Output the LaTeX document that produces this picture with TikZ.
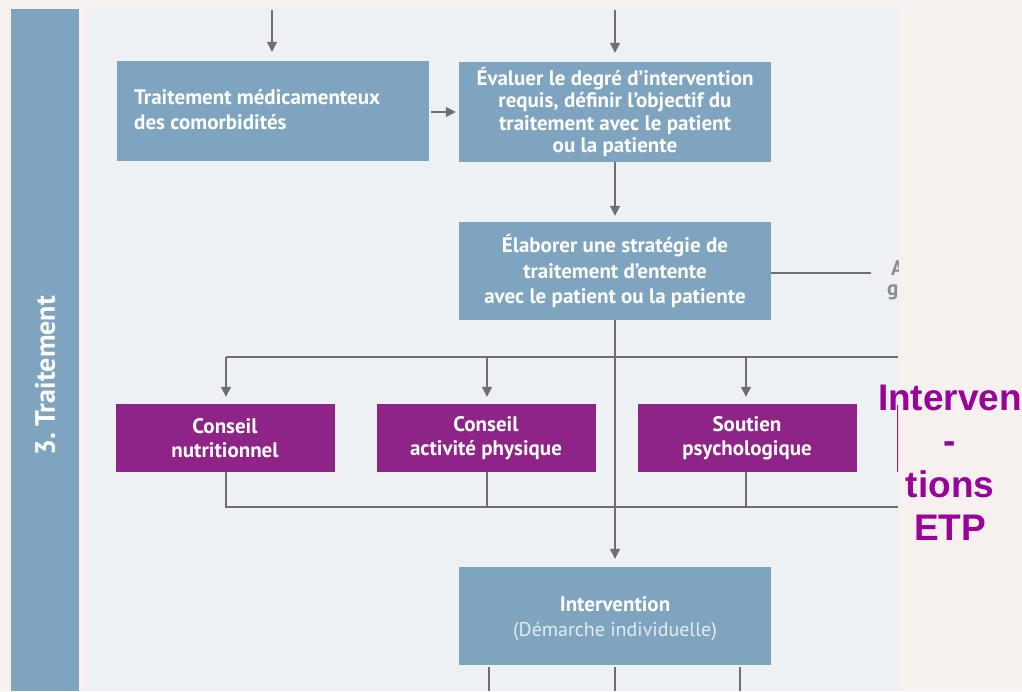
\documentclass[tikz,border=0pt]{standalone}
\usepackage{fontspec}
\setmainfont{PT Sans}
\newfontfamily\arialb{Liberation Sans}
\usetikzlibrary{arrows.meta}
\definecolor{bg}{HTML}{F6F1EE}
\definecolor{panel}{HTML}{EEF1F3}
\definecolor{bluebox}{HTML}{7FA4C0}
\definecolor{purp}{HTML}{8E2586}
\definecolor{lin}{HTML}{6F6F6F}
\definecolor{etp}{HTML}{990099}
\definecolor{sub}{HTML}{E3EBF2}
\tikzset{
  bbox/.style={fill=bluebox, draw=none, text=white, font=\bfseries\fontsize{21}{25}\selectfont, inner sep=0pt},
  pbox/.style={fill=purp, draw=none, text=white, font=\bfseries\fontsize{21}{24}\selectfont, minimum width=219pt, minimum height=68pt, inner sep=0pt, align=center},
  conn/.style={draw=lin, line width=1.4pt},
  arr/.style={conn, -{Triangle[length=10pt,width=10pt]}},
}
\begin{document}
\begin{tikzpicture}[x=1pt,y=-1pt]
\useasboundingbox (0,0) rectangle (1022,691);
\fill[bg] (0,0) rectangle (1022,691);
\fill[panel] (86,9) rectangle (898,691);
\fill[bluebox] (11,9) rectangle (79,691);
\node[rotate=90, text=white, font=\bfseries\fontsize{28}{30}\selectfont] (band) at (45,376) {3.~Traitement};

% boxes
\node[bbox, minimum width=312pt, minimum height=100pt] (A) at (273,111) {};
\node[bbox, anchor=west, align=left] (Atext) at (134,110) {Traitement médicamenteux\\des comorbidités};
\node[bbox, minimum width=312pt, minimum height=100pt, align=center, font=\bfseries\fontsize{21}{22.3}\selectfont] (B) at (615,112) {Évaluer le degré d’intervention\\requis, définir l’objectif du\\traitement avec le patient\\ou la patiente};
\node[bbox, minimum width=312pt, minimum height=98pt, align=center, font=\bfseries\fontsize{21}{25.5}\selectfont] (C) at (615,271) {Élaborer une stratégie de\\traitement d’entente\\avec le patient ou la patiente};
\node[pbox] (D) at (225,438) {Conseil\\nutritionnel};
\node[pbox] (E) at (486,438) {Conseil\\activité physique};
\node[pbox] (F) at (747,438) {Soutien\\psychologique};
\node[bbox, minimum width=312pt, minimum height=98pt] (I) at (615,616) {};
\node[bbox, align=center] (Itext) at (615,619) {\fontsize{21}{26}\selectfont Intervention\\\mdseries\fontsize{20}{26}\selectfont\color{sub}(Démarche individuelle)};

% coordinates
\coordinate (tA) at (272,10);
\coordinate (tB) at (615,10);
\coordinate (hl) at (226,357);
\coordinate (hr) at (898,357);
\coordinate (bl) at (226,507);
\coordinate (br) at (898,507);
\coordinate (cr) at (871,273);
\coordinate (b1) at (489,691);
\coordinate (b2) at (615,691);
\coordinate (b3) at (740,691);

\begin{scope}
\clip (86,9) rectangle (898,691);
\draw[arr, shorten >=9pt] (tA) -- (A.north -| tA);
\draw[arr, shorten >=9pt] (tB) -- (B.north);
\draw[arr, shorten <=2pt, shorten >=3pt] (A.east) ++(0,1) -- (B.west |- 0,112);
\draw[arr, shorten >=6pt] (B.south) -- (C.north);
\draw[conn] (C.east |- cr) -- (cr);
\draw[conn] (hl) -- (hr);
\draw[arr, shorten >=7pt] (hl) -- (D.north -| hl);
\draw[arr, shorten >=7pt] (hl -| 487,0) -- (E.north -| 487,0);
\draw[arr, shorten >=7pt] (hl -| 746,0) -- (F.north -| 746,0);
\draw[conn] (D.south -| bl) -- (bl) -- (br);
\draw[conn] (E.south -| 487,0) -- (bl -| 487,0);
\draw[conn] (F.south -| 746,0) -- (bl -| 746,0);
\draw[arr, shorten >=8pt] (C.south) -- (I.north);
\draw[conn] (I.south -| b1) ++(0,2) -- (b1);
\draw[conn] (I.south -| b2) ++(0,2) -- (b2);
\draw[conn] (I.south -| b3) ++(0,2) -- (b3);
\fill[purp] (896.5,405) rectangle (899,472);
\node[anchor=west, text=lin!80, font=\bfseries\fontsize{21}{22}\selectfont, inner sep=0pt] (ga) at (891,268) {A};
\node[anchor=west, text=lin!80, font=\bfseries\fontsize{21}{22}\selectfont, inner sep=0pt] (gg) at (887,292) {g};
\end{scope}

\node[text=etp, font=\arialb\bfseries\fontsize{37}{43.5}\selectfont, align=center, inner sep=0pt] (etp) at (950,463) {Interven\\-\\tions\\ETP};
\end{tikzpicture}
\end{document}
